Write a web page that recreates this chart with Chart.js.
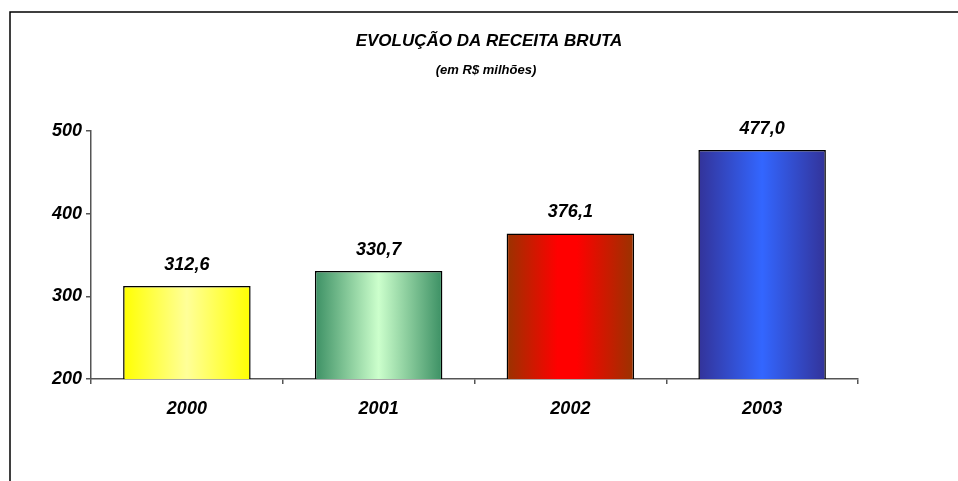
<!DOCTYPE html>
<html>
<head>
<meta charset="utf-8">
<script src="https://cdn.jsdelivr.net/npm/chart.js@4.4.1/dist/chart.umd.min.js"></script>
<style>
  html, body { margin: 0; padding: 0; background: #fff; }
  #wrap { width: 958px; height: 481px; position: relative; }
</style>
</head>
<body>
<div id="wrap"><canvas id="receita"></canvas></div>
<script>
// ----------- DADOS ---------------------------
const anos = ['2000', '2001', '2002', '2003'];
const receita = [312.6, 330.7, 376.1, 477.0];
const tituloTexto = 'EVOLUÇÃO DA RECEITA BRUTA';
const subtituloTexto = '(em R$ milhões)';
const yMin = 200, yMax = 500, yPasso = 100;

// cores das barras: [borda, centro, borda]
const degrades = [
  ['#ffff00', '#ffff99', '#ffff00'],
  ['#3c9064', '#ccffcc', '#3c9064'],
  ['#993300', '#ff0000', '#993300'],
  ['#333399', '#3366ff', '#333399']
];
const FONTE = '"Liberation Sans", Arial, sans-serif';
const LARG_BARRA = 0.665;

/**
 * Degradê horizontal calculado a partir da posição da barra na escala x
 */
function corBarra(ctx) {
  const chart = ctx.chart;
  const x = chart.scales.x;
  if (!x || !chart.chartArea) return degrades[ctx.dataIndex][0];
  const centro = x.getPixelForValue(ctx.dataIndex);
  const larg = (x.width / anos.length) * LARG_BARRA;
  const g = chart.ctx.createLinearGradient(centro - larg / 2, 0, centro + larg / 2, 0);
  const c = degrades[ctx.dataIndex];
  if (ctx.dataIndex === 2) {
    // vermelho: o brilho fica um pouco à esquerda
    g.addColorStop(0, c[0]);
    g.addColorStop(0.4, c[1]);
    g.addColorStop(0.55, c[1]);
    g.addColorStop(1, c[2]);
  } else {
    g.addColorStop(0, c[0]);
    g.addColorStop(0.5, c[1]);
    g.addColorStop(1, c[2]);
  }
  return g;
}

// moldura (linha superior e esquerda) + títulos
const moldura = {
  id: 'moldura',
  beforeDraw(chart) {
    const c = chart.ctx;
    c.save();
    c.strokeStyle = '#000';
    c.lineWidth = 1.5;
    c.beginPath();
    c.moveTo(10, 481);
    c.lineTo(10, 12);
    c.lineTo(958, 12);
    c.stroke();

    c.fillStyle = '#000';
    c.textAlign = 'center';
    c.textBaseline = 'middle';
    c.font = 'italic bold 17px ' + FONTE;
    c.fillText(tituloTexto, 489, 41);
    c.font = 'italic bold 13px ' + FONTE;
    c.fillText(subtituloTexto, 486, 70);
    c.restore();
  }
};

// valores acima das barras
const rotulos = {
  id: 'rotulos',
  afterDatasetsDraw(chart) {
    const c = chart.ctx;
    const meta = chart.getDatasetMeta(0);
    c.save();
    c.font = 'italic bold 18px ' + FONTE;
    c.fillStyle = '#000';
    c.textAlign = 'center';
    c.textBaseline = 'middle';
    meta.data.forEach((bar, i) => {
      c.fillText(receita[i].toFixed(1).replace('.', ','), bar.x, bar.y - 21);
    });
    c.restore();
  }
};

const ctx = document.getElementById('receita').getContext('2d');

let chart = new Chart(ctx, {
  type: 'bar',
  data: {
    labels: anos,
    datasets: [{
      data: receita,
      backgroundColor: corBarra,
      borderColor: '#000',
      borderWidth: 1.5,
      borderSkipped: false,
      categoryPercentage: 1,
      barPercentage: LARG_BARRA
    }]
  },
  options: {
    responsive: true,
    maintainAspectRatio: false,
    animation: false,
    layout: { padding: { left: 0, right: 100, top: 131, bottom: 0 } },
    plugins: {
      legend: { display: false },
      tooltip: { enabled: false }
    },
    scales: {
      x: {
        offset: true,
        border: { color: '#555', width: 1.5 },
        grid: { offset: true, drawOnChartArea: false, color: '#555', tickLength: 5, lineWidth: 1.5 },
        ticks: {
          color: '#000',
          padding: 14,
          font: { family: FONTE, size: 18, weight: 'bold', style: 'italic' }
        },
        afterFit(s) { s.height = 102; }
      },
      y: {
        min: yMin,
        max: yMax,
        border: { color: '#555', width: 1.5 },
        grid: { drawOnChartArea: false, color: '#555', tickLength: 5, lineWidth: 1.5 },
        ticks: {
          stepSize: yPasso,
          color: '#000',
          padding: 4,
          font: { family: FONTE, size: 18, weight: 'bold', style: 'italic' }
        },
        afterFit(s) { s.width = 91; }
      }
    }
  },
  plugins: [moldura, rotulos]
});
</script>
</body>
</html>
